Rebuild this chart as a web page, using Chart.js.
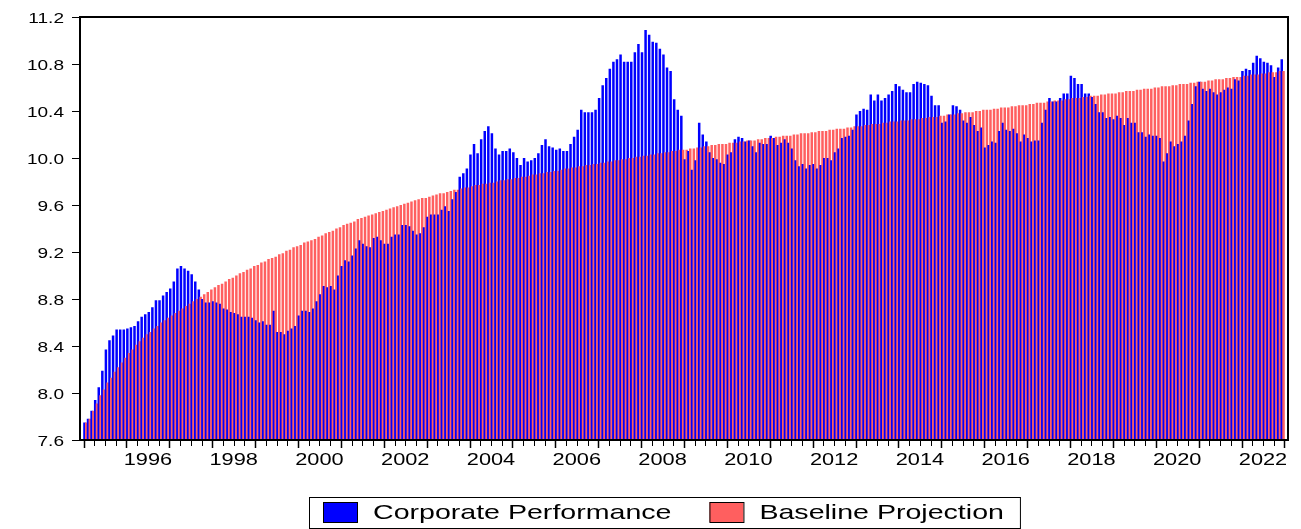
<!DOCTYPE html>
<html>
<head>
<meta charset="utf-8">
<script src="https://cdn.jsdelivr.net/npm/chart.js@4.4.1/dist/chart.umd.min.js"></script>
<style>
  html, body { margin: 0; padding: 0; background: #fff; }
  #wrap { width: 1301px; height: 529px; }
</style>
</head>
<body>
<div id="wrap"><canvas id="barChart" width="1301" height="529"></canvas></div>
<script>
// monthly series, Jan 1995 - Dec 2022
const startYear = 1995;
const seriesNames = ['Corporate Performance', 'Baseline Projection'];
const seriesColors = ['#0000ff', '#ff5f5f'];

const corporate = [
  7.75, 7.78, 7.85, 7.94, 8.05, 8.19, 8.37, 8.45, 8.49, 8.54, 8.54, 8.54,
  8.55, 8.56, 8.57, 8.61, 8.65, 8.67, 8.69, 8.73, 8.79, 8.79, 8.83, 8.86,
  8.89, 8.95, 9.06, 9.08, 9.06, 9.04, 9.01, 8.95, 8.88, 8.80, 8.77, 8.77,
  8.78, 8.77, 8.76, 8.72, 8.71, 8.69, 8.68, 8.67, 8.65, 8.65, 8.65, 8.64,
  8.62, 8.60, 8.61, 8.58, 8.58, 8.70, 8.52, 8.52, 8.50, 8.53, 8.55, 8.57,
  8.66, 8.70, 8.70, 8.69, 8.72, 8.78, 8.84, 8.91, 8.90, 8.91, 8.88, 9.00,
  9.08, 9.13, 9.12, 9.17, 9.23, 9.30, 9.27, 9.25, 9.24, 9.32, 9.33, 9.30,
  9.27, 9.27, 9.33, 9.35, 9.35, 9.43, 9.43, 9.42, 9.38, 9.35, 9.36, 9.41,
  9.50, 9.52, 9.52, 9.52, 9.56, 9.59, 9.55, 9.65, 9.71, 9.84, 9.87, 9.91,
  10.03, 10.12, 10.04, 10.16, 10.23, 10.27, 10.21, 10.08, 10.03, 10.06, 10.06, 10.08,
  10.05, 10.00, 9.94, 10.00, 9.97, 9.98, 10.00, 10.04, 10.11, 10.16, 10.10, 10.09,
  10.07, 10.08, 10.06, 10.06, 10.12, 10.18, 10.24, 10.41, 10.39, 10.39, 10.39, 10.41,
  10.51, 10.62, 10.68, 10.76, 10.82, 10.84, 10.88, 10.82, 10.82, 10.82, 10.90, 10.97,
  10.90, 11.09, 11.05, 10.99, 10.98, 10.93, 10.88, 10.77, 10.74, 10.50, 10.41, 10.36,
  9.99, 10.06, 9.90, 9.98, 10.30, 10.20, 10.14, 10.05, 10.00, 9.99, 9.96, 9.95,
  10.03, 10.05, 10.16, 10.18, 10.17, 10.14, 10.15, 10.10, 10.05, 10.13, 10.12, 10.12,
  10.19, 10.17, 10.11, 10.13, 10.16, 10.13, 10.08, 9.98, 9.93, 9.95, 9.91, 9.94,
  9.95, 9.91, 9.94, 10.00, 10.00, 9.98, 10.05, 10.08, 10.17, 10.18, 10.19, 10.24,
  10.37, 10.40, 10.42, 10.41, 10.54, 10.49, 10.54, 10.49, 10.51, 10.54, 10.57, 10.63,
  10.61, 10.58, 10.56, 10.56, 10.63, 10.65, 10.64, 10.63, 10.62, 10.53, 10.45, 10.45,
  10.30, 10.31, 10.37, 10.45, 10.44, 10.41, 10.32, 10.30, 10.35, 10.28, 10.23, 10.26,
  10.09, 10.11, 10.14, 10.13, 10.23, 10.30, 10.24, 10.23, 10.25, 10.21, 10.14, 10.20,
  10.17, 10.14, 10.15, 10.15, 10.30, 10.41, 10.51, 10.48, 10.48, 10.51, 10.55, 10.55,
  10.70, 10.68, 10.63, 10.63, 10.55, 10.55, 10.52, 10.46, 10.39, 10.39, 10.34, 10.35,
  10.33, 10.36, 10.34, 10.28, 10.34, 10.30, 10.30, 10.22, 10.22, 10.18, 10.20, 10.19,
  10.19, 10.17, 9.97, 10.04, 10.14, 10.10, 10.12, 10.14, 10.19, 10.32, 10.46, 10.61,
  10.65, 10.59, 10.57, 10.59, 10.56, 10.54, 10.56, 10.58, 10.60, 10.59, 10.67, 10.66,
  10.74, 10.76, 10.75, 10.81, 10.87, 10.85, 10.82, 10.81, 10.79, 10.69, 10.77, 10.84
];

const baseline = [
  7.75, 7.78, 7.85, 7.91, 7.98, 8.03, 8.09, 8.13, 8.18, 8.22, 8.26, 8.30,
  8.34, 8.37, 8.41, 8.44, 8.47, 8.50, 8.52, 8.55, 8.57, 8.60, 8.62, 8.64,
  8.66, 8.68, 8.70, 8.72, 8.74, 8.76, 8.78, 8.80, 8.82, 8.84, 8.86, 8.88,
  8.90, 8.92, 8.93, 8.95, 8.97, 8.98, 9.00, 9.02, 9.03, 9.05, 9.06, 9.08,
  9.09, 9.11, 9.12, 9.14, 9.15, 9.16, 9.18, 9.19, 9.21, 9.22, 9.24, 9.25,
  9.26, 9.28, 9.29, 9.30, 9.31, 9.33, 9.34, 9.36, 9.37, 9.38, 9.40, 9.41,
  9.43, 9.44, 9.45, 9.46, 9.48, 9.49, 9.50, 9.51, 9.52, 9.53, 9.54, 9.55,
  9.56, 9.57, 9.58, 9.59, 9.60, 9.61, 9.62, 9.63, 9.64, 9.65, 9.66, 9.66,
  9.67, 9.68, 9.69, 9.70, 9.70, 9.71, 9.72, 9.73, 9.73, 9.74, 9.75, 9.75,
  9.76, 9.77, 9.77, 9.78, 9.78, 9.79, 9.79, 9.80, 9.81, 9.81, 9.82, 9.82,
  9.83, 9.83, 9.84, 9.84, 9.85, 9.86, 9.86, 9.87, 9.87, 9.88, 9.88, 9.89,
  9.89, 9.90, 9.91, 9.91, 9.92, 9.92, 9.93, 9.93, 9.94, 9.94, 9.95, 9.95,
  9.96, 9.96, 9.97, 9.97, 9.98, 9.98, 9.99, 9.99, 10.00, 10.00, 10.01, 10.01,
  10.02, 10.02, 10.03, 10.03, 10.04, 10.04, 10.05, 10.05, 10.06, 10.06, 10.07, 10.07,
  10.07, 10.08, 10.08, 10.09, 10.09, 10.10, 10.10, 10.11, 10.11, 10.12, 10.12, 10.12,
  10.13, 10.13, 10.13, 10.14, 10.14, 10.15, 10.15, 10.15, 10.16, 10.16, 10.17, 10.17,
  10.17, 10.18, 10.18, 10.19, 10.19, 10.19, 10.20, 10.20, 10.21, 10.21, 10.21, 10.22,
  10.22, 10.23, 10.23, 10.23, 10.24, 10.24, 10.25, 10.25, 10.25, 10.26, 10.26, 10.27,
  10.27, 10.27, 10.28, 10.28, 10.29, 10.29, 10.29, 10.30, 10.30, 10.31, 10.31, 10.31,
  10.32, 10.32, 10.32, 10.33, 10.33, 10.33, 10.34, 10.34, 10.35, 10.35, 10.35, 10.36,
  10.36, 10.37, 10.37, 10.37, 10.38, 10.38, 10.39, 10.39, 10.39, 10.40, 10.40, 10.41,
  10.41, 10.41, 10.42, 10.42, 10.43, 10.43, 10.43, 10.44, 10.44, 10.45, 10.45, 10.45,
  10.46, 10.46, 10.47, 10.47, 10.47, 10.48, 10.48, 10.49, 10.49, 10.49, 10.50, 10.50,
  10.51, 10.51, 10.51, 10.52, 10.52, 10.53, 10.53, 10.53, 10.54, 10.54, 10.55, 10.55,
  10.55, 10.56, 10.56, 10.57, 10.57, 10.57, 10.58, 10.58, 10.59, 10.59, 10.59, 10.60,
  10.60, 10.61, 10.61, 10.61, 10.62, 10.62, 10.63, 10.63, 10.63, 10.64, 10.64, 10.65,
  10.65, 10.65, 10.66, 10.66, 10.67, 10.67, 10.67, 10.68, 10.68, 10.69, 10.69, 10.69,
  10.70, 10.70, 10.71, 10.71, 10.71, 10.72, 10.72, 10.73, 10.73, 10.73, 10.74, 10.74
];

const yTicks = [7.6, 8.0, 8.4, 8.8, 9.2, 9.6, 10.0, 10.4, 10.8, 11.2];
const yearLabels = ['1996', '1998', '2000', '2002', '2004', '2006', '2008',
  '2010', '2012', '2014', '2016', '2018', '2020', '2022'];

const months = corporate.map((_, i) =>
  (startYear + Math.floor(i / 12)) + '-' + String(i % 12 + 1).padStart(2, '0'));

const FONT = '"Liberation Sans", Arial, sans-serif';

// text is drawn wider than tall, like the exported original
function wideText(ctx, text, x, y, align, sx) {
  ctx.save();
  ctx.translate(x, y);
  ctx.scale(sx, 1);
  ctx.textAlign = align;
  ctx.fillText(text, 0, 0);
  ctx.restore();
}

// draw the two series pair by pair (blue, red, blue, red...) so the
// overlapping bars alternate like in the original
const pairDraw = {
  id: 'pairDraw',
  beforeDatasetsDraw(chart) {
    const { ctx, chartArea: a } = chart;
    const metas = chart.getSortedVisibleDatasetMetas();
    const n = Math.max(...metas.map(m => m.data.length));
    ctx.save();
    ctx.beginPath();
    ctx.rect(a.left, a.top, a.right - a.left, a.bottom - a.top);
    ctx.clip();
    for (let i = 0; i < n; i++) {
      metas.forEach(m => { if (m.data[i]) m.data[i].draw(ctx); });
    }
    ctx.restore();
    return false;
  }
};

const framePlugin = {
  id: 'frame',
  afterDraw(chart) {
    const { ctx, chartArea: a, scales: { x, y } } = chart;
    ctx.save();
    ctx.strokeStyle = '#000';
    ctx.fillStyle = '#000';

    // y ticks + labels
    ctx.lineWidth = 1;
    ctx.font = '15px ' + FONT;
    ctx.textBaseline = 'middle';
    yTicks.forEach(v => {
      const py = Math.round(y.getPixelForValue(v)) + 0.5;
      ctx.beginPath();
      ctx.moveTo(a.left - 8, py);
      ctx.lineTo(a.left, py);
      ctx.stroke();
      wideText(ctx, v.toFixed(1), a.left - 16, py + 1, 'right', 1.27);
    });

    // x ticks, one per quarter, longer at each year
    for (let i = 0; i <= months.length; i += 3) {
      const px = Math.round(x.getPixelForValue(i - 0.5)) + 0.5;
      const major = i % 12 === 0;
      ctx.lineWidth = major ? 1.5 : 1;
      ctx.beginPath();
      ctx.moveTo(px, a.bottom);
      ctx.lineTo(px, a.bottom + (major ? 8 : 6));
      ctx.stroke();
    }
    ctx.font = '17px ' + FONT;
    ctx.textBaseline = 'top';
    yearLabels.forEach(lbl => {
      const mid = (Number(lbl) - startYear) * 12 + 5.5;
      wideText(ctx, lbl, x.getPixelForValue(mid), a.bottom + 12, 'center', 1.28);
    });

    // frame
    ctx.lineWidth = 2;
    ctx.strokeRect(a.left, a.top, a.right - a.left, a.bottom - a.top);

    // legend
    const lx = 309, ly = 497, sx = 1.36;
    ctx.font = '21px ' + FONT;
    ctx.textBaseline = 'middle';
    let cx = lx + 14;
    const items = chart.data.datasets.map(d => ({ label: d.label, color: d.backgroundColor }));
    const parts = [];
    items.forEach(it => {
      const w = ctx.measureText(it.label).width * sx;
      parts.push({ it, sw: cx, tx: cx + 50 });
      cx += 50 + w + 38;
    });
    const boxW = cx - 38 + 16 - lx;
    ctx.lineWidth = 1;
    ctx.strokeRect(lx + 0.5, ly + 0.5, boxW, 31);
    parts.forEach(p => {
      ctx.fillStyle = p.it.color;
      ctx.fillRect(p.sw, ly + 5, 34, 20);
      ctx.strokeRect(p.sw + 0.5, ly + 5.5, 34, 20);
      ctx.fillStyle = '#000';
      wideText(ctx, p.it.label, p.tx, ly + 16, 'left', sx);
    });
    ctx.restore();
  }
};

const ctx = document.getElementById('barChart').getContext('2d');
new Chart(ctx, {
  type: 'bar',
  data: {
    labels: months,
    datasets: [
      {
        label: seriesNames[0],
        data: corporate.map((v, i) => ({ x: i, y: v })),
        backgroundColor: seriesColors[0]
      },
      {
        label: seriesNames[1],
        data: baseline.map((v, i) => ({ x: i, y: v })),
        backgroundColor: seriesColors[1]
      }
    ]
  },
  options: {
    responsive: false,
    animation: false,
    layout: { padding: { left: 80, top: 17, right: 13, bottom: 89 } },
    datasets: { bar: { categoryPercentage: 1, barPercentage: 1.4 } },
    plugins: {
      legend: { display: false },
      tooltip: { enabled: false }
    },
    scales: {
      x: {
        type: 'linear', min: -1.5, max: months.length + 0.5,
        offset: false, grid: { offset: false }, display: false
      },
      y: { min: 7.6, max: 11.2, display: false }
    }
  },
  plugins: [pairDraw, framePlugin]
});
</script>
</body>
</html>
